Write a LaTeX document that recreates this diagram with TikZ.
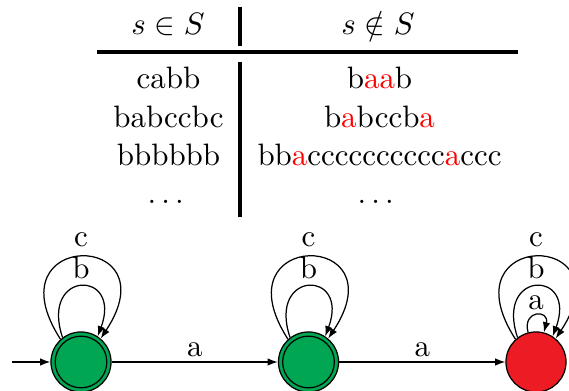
\documentclass[tikz,border=0pt]{standalone}
\usetikzlibrary{arrows.meta}
\definecolor{accgreen}{RGB}{0,166,81}
\definecolor{rejred}{RGB}{237,28,36}
\begin{document}
\begin{tikzpicture}[x=0.3231pt, y=-0.3231pt,
  statebase/.style={circle, draw, minimum size=19.4pt, inner sep=0pt},
  acc/.style={statebase, fill=accgreen,
    path picture={\draw (path picture bounding box.center) circle[radius=8.35pt];}},
  rej/.style={statebase, fill=rejred},
  trans/.style={-{Latex[length=3.3pt,width=2.4pt]}},
  cell/.style={anchor=base, inner sep=0pt},
  tabrule/.style={line width=1pt}
]
\useasboundingbox (0,0) rectangle (569,391);

% table of example strings
\node[cell] (h1) at (168,35) {$s \in S$};
\node[cell] (h2) at (378,35) {$s \notin S$};
\draw[tabrule] (240,7) -- (240,46);
\draw[tabrule] (97,52) -- (518,52);
\draw[tabrule] (240,62) -- (240,217);

\node[cell] (l1) at (168.5,89)   {cabb};
\node[cell] (l2) at (168.5,127.5){babccbc};
\node[cell] (l3) at (168.5,166)  {bbbbbb};
\node[cell] (l4) at (165.7,204)  {$\ldots$};

\node[cell] (r1) at (379.5,89)   {b\textcolor{red}{aa}b};
\node[cell] (r2) at (379.5,127.5){b\textcolor{red}{a}bccb\textcolor{red}{a}};
\node[cell] (r3) at (379.5,166)  {bb\textcolor{red}{a}cccccccccc\textcolor{red}{a}ccc};
\node[cell] (r4) at (375.8,204)  {$\ldots$};

% automaton
\node[acc] (q0) at (81,362) {};
\node[acc] (q1) at (308.5,362) {};
\node[rej] (q2) at (536,362) {};
\coordinate (init) at (12,362);

\draw[trans] (init) -- (q0);
\draw[trans] (q0) -- node[above, inner sep=1.5pt] {a} (q1);
\draw[trans] (q1) -- node[above, inner sep=1.5pt] {a} (q2);

% self loops
\foreach \q in {q0,q1,q2}{
  \draw[trans] (\q.127) .. controls +(-23,-68) and +(25,-67) .. (\q.57)
    node[midway, above, inner sep=2.3pt] {b};
  \draw[trans] (\q.132) .. controls +(-71,-110) and +(72,-109) .. (\q.50)
    node[midway, above, inner sep=2.9pt] {c};
}
\draw[trans] (q2.105) .. controls +(-6,-23) and +(6,-23) .. (q2.75)
  node[midway, above, inner sep=1.6pt] {a};
\end{tikzpicture}
\end{document}
